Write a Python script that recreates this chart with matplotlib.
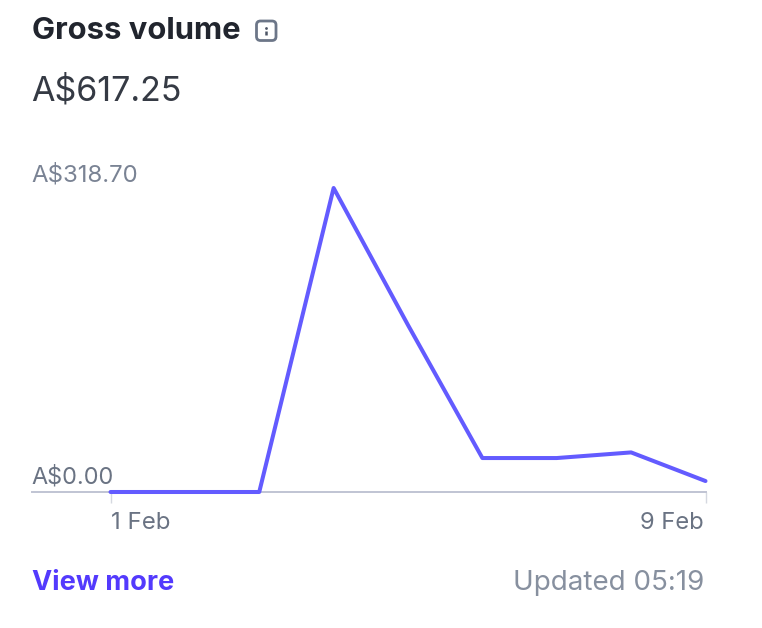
import matplotlib
matplotlib.use('Agg')
import matplotlib.pyplot as plt
from matplotlib.patches import FancyBboxPatch

plt.rcParams['font.family'] = ['Inter', 'DejaVu Sans']

days = [1, 2, 3, 4, 5, 6, 7, 8, 9]
volume = [0, 0, 0, 318.70, 175, 35.6, 35.6, 41.5, 11.5]
tick_days = [1, 9]
tick_labels = ['1 Feb', '9 Feb']
y_labels = ['A$0.00', 'A$318.70']
y_ticks = [0, 318.70]

W, H = 762, 628
fig = plt.figure(figsize=(W / 100, H / 100), dpi=100)

def fx(px):
    return px / W

def fy(py):
    return 1 - py / H

# plot area: baseline at y=492, top value at y=188, day 1 at x=110.5, day 9 at x=705.5
ax = fig.add_axes([fx(32), fy(492), fx(705.5 - 32), (492 - 188) / H])
step = (705.5 - 110.5) / 8
ax.set_xlim(1 - (110.5 - 32) / step, 9)
ax.set_ylim(0, 318.70)
ax.patch.set_alpha(0)

for s in ['top', 'left', 'right']:
    ax.spines[s].set_visible(False)
ax.spines['bottom'].set_color('#c0c4d3')
ax.spines['bottom'].set_linewidth(1.4)

ax.plot(days, volume, color='#635bff', lw=2.9, clip_on=False,
        solid_capstyle='round', solid_joinstyle='round', zorder=5)

ax.set_yticks([])
ax.set_xticks(tick_days)
ax.set_xticklabels([])
ax.tick_params(axis='x', length=8, width=1, color='#d5d8e0')

# tick labels
fig.text(fx(111), fy(529), tick_labels[0], ha='left', va='baseline', fontsize=17.3, color='#6a7383')
fig.text(fx(704), fy(529), tick_labels[1], ha='right', va='baseline', fontsize=17.1, color='#6a7383')

# y labels
fig.text(fx(31), fy(484), y_labels[0], ha='left', va='baseline', fontsize=16.9, color='#6a7383')
fig.text(fx(31), fy(181), y_labels[1], ha='left', va='baseline', fontsize=17.3, color='#7a8394')

# header
fig.text(fx(32), fy(39), 'Gross volume', ha='left', va='baseline', fontsize=22.3, fontweight='bold', color='#21252e')
fig.text(fx(31), fy(101), 'A$617.25', ha='left', va='baseline', fontsize=24.5, color='#353a44')

# footer
fig.text(fx(32), fy(590), 'View more', ha='left', va='baseline', fontsize=19.5, fontweight='bold', color='#533afd')
fig.text(fx(704), fy(590), 'Updated 05:19', ha='right', va='baseline', fontsize=20, color='#87909f')

# info icon
overlay = fig.add_axes([0, 0, 1, 1])
overlay.set_xlim(0, W)
overlay.set_ylim(H, 0)
overlay.axis('off')
overlay.patch.set_alpha(0)
overlay.add_patch(FancyBboxPatch((256.5, 21), 19.5, 19.5, boxstyle='round,pad=0,rounding_size=4',
                                 fc='white', ec='#6c7688', lw=2))
overlay.plot([266], [27.5], marker='o', ms=2, mew=0, color='#4d5565', lw=0)
overlay.plot([266, 266], [31, 34.5], color='#4d5565', lw=1.8, solid_capstyle='butt')

fig.savefig('out.png', dpi=100)
